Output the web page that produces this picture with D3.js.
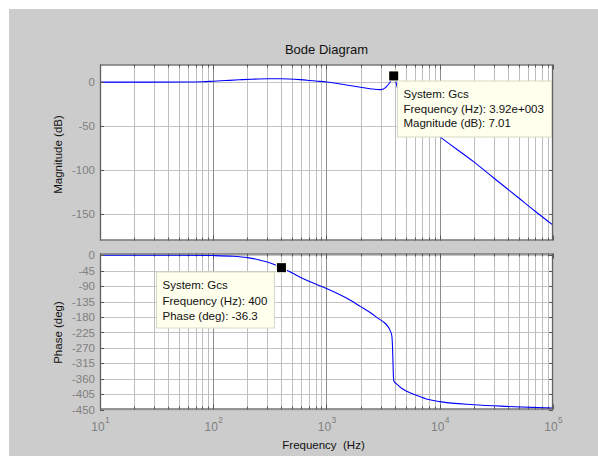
<!DOCTYPE html>
<html><head><meta charset="utf-8">
<script src="https://cdn.jsdelivr.net/npm/d3@7"></script>
<style>
html,body{margin:0;padding:0;background:#fff;}
svg{display:block;font-family:"Liberation Sans",Arial,sans-serif;}
</style></head>
<body><svg id="c" width="598" height="456"></svg>
<script>
// ---- data ----
const title = "Bode Diagram";
const decadeTicks = [10, 100, 1000, 10000, 100000];
const decadeExps = ["1", "2", "3", "4", "5"];
const magTicks = [0, -50, -100, -150];
const phaseTicks = [0, -45, -90, -135, -180, -225, -270, -315, -360, -405, -450];

const magFreq = [10, 30, 60, 80, 100, 130, 170, 220, 300, 400, 585, 800, 1000, 1500, 2000, 2500, 3000, 3300, 3400, 3600, 3800, 3920, 4000, 4270, 4600, 5000, 6000, 7000, 8000, 10000, 20000, 30000, 48000, 70000, 100000];
const magDb   = [0, 0, 0.1, 0.4, 1.0, 1.8, 2.6, 3.3, 3.8, 3.8, 2.8, 1.2, 0.2, -3.3, -5.9, -7.8, -8.6, -6.5, -4.9, -1.0, 4.0, 7.01, 5.0, -8.6, -18, -26, -38, -46, -52, -62, -90.7, -109, -130, -147, -162.5];

const phaseFreq = [10, 50, 100, 150, 200, 250, 300, 350, 400, 500, 585, 700, 1000, 1500, 2000, 2500, 2880, 3200, 3450, 3650, 3775, 3830, 3870, 3900, 3950, 4180, 4600, 5120, 6070, 7950, 10000, 20000, 39000, 100000];
const phaseDeg  = [0, 0, -1, -3, -7, -13, -20, -28, -36.3, -52, -64, -76, -97, -125, -150, -170, -185, -195, -206, -220, -235, -270, -320, -355, -368, -376, -388, -397, -407, -421, -427, -436, -441, -446];

const tip1 = {f: 3920, v: 7.01, lines: ["System: Gcs", "Frequency (Hz): 3.92e+003", "Magnitude (dB): 7.01"]};
const tip2 = {f: 400, v: -36.3, lines: ["System: Gcs", "Frequency (Hz): 400", "Phase (deg): -36.3"]};

// ---- layout ----
const svg = d3.select("#c");
const L = 100, R = 553;
const magBox = {top: 64.5, bottom: 240.5};
const phBox = {top: 253.5, bottom: 409.5};
const fs = 11.5;

svg.append("rect").attr("x", 9).attr("y", 9).attr("width", 598 - 9).attr("height", 456 - 9).attr("fill", "#cccccc");

const x = d3.scaleLog().domain([10, 100000]).range([L, R]);
const yMag = d3.scaleLinear().domain([-180, 20]).range([magBox.bottom, magBox.top]);
const yPh = d3.scaleLinear().domain([-450, 5]).range([phBox.bottom, phBox.top]);

const minorF = [];
for (let d = 10; d < 100000; d *= 10) for (let k = 2; k <= 9; k++) minorF.push(d * k);

function panel(box, y, ticks, fr, vals, id) {
  const g = svg.append("g");
  g.append("rect").attr("x", L).attr("y", box.top).attr("width", R - L).attr("height", box.bottom - box.top).attr("fill", "#fff");
  g.selectAll(".hg").data(ticks).join("line")
    .attr("x1", L).attr("x2", R).attr("y1", d => Math.round(y(d)) + 0.5).attr("y2", d => Math.round(y(d)) + 0.5)
    .attr("stroke", "#c4c4c4").attr("stroke-width", 1);
  g.selectAll(".mg").data(minorF).join("line")
    .attr("x1", d => Math.round(x(d)) + 0.5).attr("x2", d => Math.round(x(d)) + 0.5)
    .attr("y1", box.top).attr("y2", box.bottom).attr("stroke", "#bdbdbd").attr("stroke-width", 1);
  g.selectAll(".Mg").data(decadeTicks.slice(1, -1)).join("line")
    .attr("x1", d => Math.round(x(d)) + 0.5).attr("x2", d => Math.round(x(d)) + 0.5)
    .attr("y1", box.top).attr("y2", box.bottom).attr("stroke", "#8c8c8c").attr("stroke-width", 1);
  g.selectAll(".mt").data(minorF).join("path")
    .attr("d", d => { const xx = Math.round(x(d)) + 0.5; return `M${xx},${box.top}v3M${xx},${box.bottom}v-3`; })
    .attr("stroke", "#555").attr("stroke-width", 1);
  g.selectAll(".Mt").data(decadeTicks).join("path")
    .attr("d", d => { const xx = Math.round(x(d)) + 0.5; return `M${xx},${box.top}v5M${xx},${box.bottom}v-5`; })
    .attr("stroke", "#555").attr("stroke-width", 1);
  g.append("clipPath").attr("id", id).append("rect").attr("x", L).attr("y", box.top).attr("width", R - L).attr("height", box.bottom - box.top);
  const line = d3.line().x(d => x(d[0])).y(d => y(d[1])).curve(d3.curveMonotoneX);
  g.append("path").attr("clip-path", `url(#${id})`).attr("d", line(fr.map((f, i) => [f, vals[i]])))
    .attr("fill", "none").attr("stroke", "#0000ff").attr("stroke-width", 1.1);
  const ay = d3.axisLeft(y).tickValues(ticks).tickSize(0).tickPadding(5).tickFormat(d => String(d));
  const ga = g.append("g").attr("transform", `translate(${L},0)`).call(ay);
  ga.select(".domain").remove();
  ga.selectAll("text").attr("font-size", fs).attr("fill", "#808080").attr("font-family", "Liberation Sans, Arial, sans-serif");
  g.selectAll(".yt").data(ticks).join("path")
    .attr("d", d => { const yy = Math.round(y(d)) + 0.5; return `M${L},${yy}h4M${R},${yy}h-4`; })
    .attr("stroke", "#555").attr("stroke-width", 1);
  g.append("rect").attr("x", L + 0.5).attr("y", box.top + 0.5).attr("width", R - L - 1).attr("height", box.bottom - box.top - 1)
    .attr("fill", "none").attr("stroke", "#606060").attr("stroke-width", 1.3);
  return g;
}

panel(magBox, yMag, magTicks, magFreq, magDb, "clipMag");
panel(phBox, yPh, phaseTicks, phaseFreq, phaseDeg, "clipPh");

const ax = d3.axisBottom(x).tickValues(decadeTicks).tickSize(0).tickFormat("");
const gx = svg.append("g").attr("transform", `translate(0,${phBox.bottom})`).call(ax);
gx.select(".domain").remove();
gx.selectAll(".tick").each(function(d, i) {
  const t = d3.select(this).append("text").attr("y", 21.5).attr("text-anchor", "middle")
    .attr("fill", "#808080").attr("font-size", 12).attr("font-family", "Liberation Sans, Arial, sans-serif");
  t.append("tspan").text("10");
  t.append("tspan").attr("dy", -8).attr("font-size", 8.5).attr("dx", 0.5).text(decadeExps[i]);
});

svg.append("text").attr("x", (L + R) / 2).attr("y", 54).attr("text-anchor", "middle").attr("font-size", 13).attr("fill", "#111").text(title);
svg.append("text").attr("x", (L + R) / 2 - 3).attr("y", 449).attr("text-anchor", "middle").attr("font-size", fs).attr("fill", "#111")
  .style("white-space", "pre").text("Frequency  (Hz)");
svg.append("text").attr("transform", `translate(62,${(magBox.top + magBox.bottom) / 2 + 2}) rotate(-90)`).attr("text-anchor", "middle")
  .attr("font-size", fs).attr("fill", "#111").text("Magnitude (dB)");
svg.append("text").attr("transform", `translate(62,${(phBox.top + phBox.bottom) / 2 + 1}) rotate(-90)`).attr("text-anchor", "middle")
  .attr("font-size", fs).attr("fill", "#111").text("Phase (deg)");

function datatip(tip, y, bx, by, bw, bh, lineH) {
  const g = svg.append("g");
  g.append("rect").attr("x", bx + 0.5).attr("y", by + 0.5).attr("width", bw).attr("height", bh)
    .attr("fill", "#ffffee").attr("stroke", "#d8d8c4").attr("stroke-width", 1);
  tip.lines.forEach((s, i) => {
    g.append("text").attr("x", bx + 6.5).attr("y", by + 17.5 + i * lineH).attr("font-size", fs).attr("fill", "#111").text(s);
  });
  const cx = x(tip.f), cy = y(tip.v);
  g.append("rect").attr("x", cx - 5.5).attr("y", cy - 5.5).attr("width", 11).attr("height", 11).attr("fill", "#ffffee");
  g.append("rect").attr("x", cx - 4.5).attr("y", cy - 4.5).attr("width", 9).attr("height", 9).attr("fill", "#000");
}
datatip(tip1, yMag, 397, 80.5, 154, 56, 14.5);
datatip(tip2, yPh, 156, 271.5, 118, 56, 15.5);
</script></body></html>
